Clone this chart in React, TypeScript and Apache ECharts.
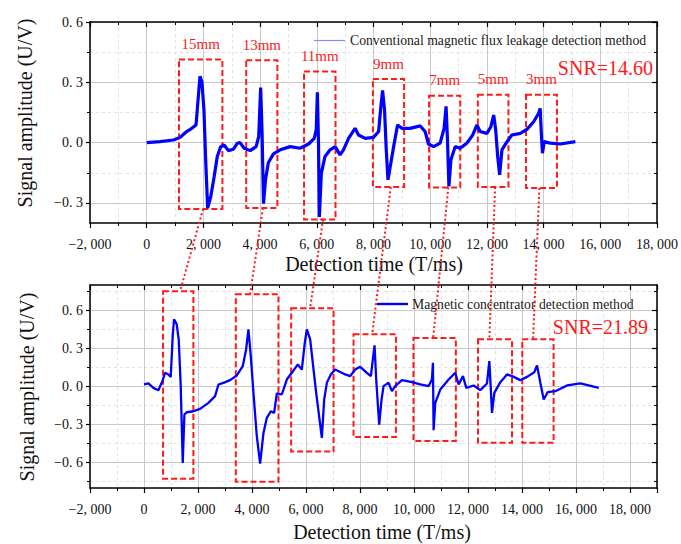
import React, { useEffect, useRef } from "react";
import * as echarts from "echarts";

// ---------- data ----------
const topX = [0, 470, 940, 1180, 1410, 1590, 1740, 1810, 1880, 1950, 2020, 2080, 2150, 2260, 2380, 2490, 2610, 2730, 2880, 3060, 3200, 3290, 3440, 3650, 3860, 3950, 4020, 4070, 4120, 4190, 4290, 4470, 4710, 5060, 5410, 5710, 5910, 5980, 6020, 6060, 6090, 6160, 6290, 6470, 6650, 6820, 6940, 7120, 7350, 7470, 7710, 8000, 8180, 8260, 8320, 8390, 8450, 8510, 8590, 8710, 8850, 9000, 9290, 9650, 9820, 9940, 10120, 10350, 10490, 10560, 10610, 10660, 10730, 10880, 11060, 11290, 11500, 11650, 11760, 12000, 12140, 12240, 12310, 12380, 12450, 12530, 12710, 12880, 13180, 13410, 13650, 13820, 13880, 13920, 13960, 14020, 14240, 14590, 15120];
const topY = [0, 0.005, 0.013, 0.026, 0.055, 0.071, 0.088, 0.21, 0.33, 0.3, 0.16, -0.086, -0.326, -0.268, -0.169, -0.069, -0.02, -0.012, -0.04, -0.033, -0.003, 0, -0.028, -0.04, -0.02, 0.03, 0.274, 0.046, -0.304, -0.185, -0.1, -0.056, -0.036, -0.02, -0.028, -0.007, 0.021, 0.063, 0.25, -0.003, -0.37, -0.152, -0.069, -0.036, -0.02, -0.061, -0.036, 0.021, 0.071, 0.038, 0.021, 0.026, 0.055, 0.18, 0.26, 0.16, -0.036, -0.185, -0.12, -0.02, 0.088, 0.071, 0.071, 0.083, 0.055, -0.007, -0.02, -0.003, 0.071, 0.18, 0.013, -0.218, -0.086, -0.02, -0.028, -0.003, 0.038, 0.088, 0.055, 0.046, 0.079, 0.137, 0.063, -0.069, -0.16, -0.036, 0.005, 0.038, 0.046, 0.066, 0.104, 0.145, 0.17, 0.046, -0.053, 0.005, -0.003, -0.007, 0.005];

const botX = [0, 162, 347, 533, 681, 780, 903, 990, 1064, 1113, 1212, 1286, 1360, 1435, 1496, 1583, 1830, 2077, 2386, 2633, 2757, 2942, 3189, 3436, 3659, 3782, 3869, 3955, 4054, 4178, 4301, 4425, 4548, 4697, 4820, 4919, 5104, 5289, 5475, 5697, 5845, 5956, 6031, 6154, 6377, 6587, 6673, 6772, 6920, 7081, 7451, 7636, 7822, 8007, 8254, 8402, 8539, 8600, 8711, 8798, 8872, 9058, 9181, 9305, 9552, 9923, 10232, 10541, 10664, 10701, 10726, 10788, 10973, 11282, 11529, 11653, 11813, 11937, 12209, 12456, 12703, 12790, 12839, 12889, 12975, 13198, 13444, 13630, 13939, 14186, 14457, 14556, 14680, 14803, 14951, 15235, 15668, 16162, 16841];
const botY = [0.016, 0.024, -0.011, -0.029, 0.042, 0.108, 0.095, 0.076, 0.4, 0.53, 0.49, 0.37, 0.003, -0.603, -0.221, -0.203, -0.195, -0.176, -0.129, -0.076, 0.016, 0.029, 0.05, 0.087, 0.161, 0.292, 0.45, 0.24, -0.05, -0.392, -0.608, -0.366, -0.247, -0.195, -0.208, -0.055, -0.063, 0.055, 0.108, 0.174, 0.134, 0.345, 0.45, 0.371, -0.05, -0.405, -0.103, 0.029, 0.095, 0.134, 0.095, 0.082, 0.134, 0.155, 0.108, 0.082, 0.324, 0.055, -0.3, -0.103, 0.003, 0.029, -0.037, 0.003, 0.05, 0.034, 0.016, 0.003, 0.055, 0.187, -0.345, -0.129, -0.024, 0.055, 0.108, 0.016, 0.082, -0.011, 0.008, -0.029, 0.024, 0.2, 0.003, -0.208, -0.05, 0.034, 0.095, 0.082, 0.05, 0.076, 0.113, 0.166, 0.029, -0.103, -0.045, -0.037, 0.008, 0.024, -0.011];

const defectNames = ["15mm", "13mm", "11mm", "9mm", "7mm", "5mm", "3mm"];
const topBoxX0 = [1140, 3510, 5550, 7980, 9960, 11680, 13380];
const topBoxX1 = [2670, 4610, 6660, 9080, 11060, 12760, 14470];
const topBoxY0 = [-0.33, -0.325, -0.383, -0.221, -0.223, -0.221, -0.226];
const topBoxY1 = [0.414, 0.41, 0.354, 0.316, 0.233, 0.238, 0.238];
const botBoxX0 = [706, 3400, 5450, 7760, 9980, 12370, 14010];
const botBoxX1 = [1829, 4980, 7020, 9330, 11550, 13630, 15170];
const botBoxY0 = [-0.727, -0.75, -0.513, -0.399, -0.43, -0.444, -0.444];
const botBoxY1 = [0.75, 0.727, 0.616, 0.412, 0.383, 0.372, 0.372];
const linkTopX = [1990, 4100, 6220, 8610, 10640, 12290, 13850];
const linkBotX = [1336, 3930, 6150, 8450, 10710, 12790, 14410];

const topYMajor = [-0.3, 0, 0.3, 0.6];
const topYMinor = [-0.15, 0.15, 0.45];
const botYMajor = [-0.6, -0.3, 0, 0.3, 0.6];
const botYMinor = [-0.75, -0.45, -0.15, 0.15, 0.45, 0.75];

const topLegend = "Conventional magnetic flux leakage detection method";
const botLegend = "Magnetic concentrator detection method";
const topSNR = "SNR=14.60";
const botSNR = "SNR=21.89";
const yTitle = "Signal amplitude (U/V)";
const xTitle = "Detection time (T/ms)";

// ---------- styles ----------
const FONT = "'Times New Roman', 'Liberation Serif', serif";
const RED = "#ff1a1a";
const BLUE = "#0000ff";
const MAJOR_GRID = "#c9c9c9";
const MINOR_GRID = "#e2e2e2";

const fmtX = (v: number) => {
  const a = Math.abs(v);
  const s = a >= 1000 ? `${Math.floor(a / 1000)}, ${String(a % 1000).padStart(3, "0")}` : String(a);
  return v < 0 ? "\u2212" + s : s;
};
const fmtY = (v: number) => {
  const s = Math.abs(v).toFixed(1).replace(".", ". ");
  return v < -1e-9 ? "\u2212" + s : s;
};

function xAxes(grid: number, max: number) {
  return [
    {
      type: "value", gridIndex: grid, position: "bottom", min: -2000, max, interval: 2000,
      axisLine: { show: true, onZero: false, lineStyle: { color: "#000", width: 1.5 } },
      axisTick: { show: true, length: 5, lineStyle: { color: "#000", width: 1.2 } },
      minorTick: { show: true, splitNumber: 2, length: 3, lineStyle: { color: "#000", width: 1 } },
      axisLabel: { formatter: fmtX, fontSize: 14, margin: 14, color: "#111", fontFamily: FONT },
      splitLine: { show: true, lineStyle: { color: MAJOR_GRID, width: 1 } },
      minorSplitLine: { show: true, lineStyle: { color: MINOR_GRID, type: [3, 3], width: 1 } },
    },
    {
      type: "value", gridIndex: grid, position: "top", min: -2000, max, interval: 2000,
      axisLine: { show: true, onZero: false, lineStyle: { color: "#000", width: 1.5 } },
      axisTick: { show: true, inside: true, length: 5, lineStyle: { color: "#000", width: 1.2 } },
      minorTick: { show: true, splitNumber: 2, length: 3, lineStyle: { color: "#000", width: 1 } },
      axisLabel: { show: false },
      splitLine: { show: false },
    },
  ];
}

function yAxes(grid: number, min: number, max: number, major: number[], minor: number[]) {
  return [
    {
      type: "value", gridIndex: grid, position: "left", min, max,
      axisLine: { show: true, onZero: false, lineStyle: { color: "#000", width: 1.5 } },
      axisTick: { show: true, customValues: major, length: 4, lineStyle: { color: "#000", width: 1.2 } },
      axisLabel: { customValues: major, formatter: fmtY, fontSize: 14, margin: 7, color: "#111", fontFamily: FONT },
      splitLine: { show: true, lineStyle: { color: MAJOR_GRID, width: 1 } },
    },
    {
      type: "value", gridIndex: grid, position: "right", min, max,
      axisLine: { show: true, onZero: false, lineStyle: { color: "#000", width: 1.5 } },
      axisTick: { show: true, inside: true, customValues: major, length: 5, lineStyle: { color: "#000", width: 1.2 } },
      axisLabel: { show: false },
      splitLine: { show: false },
    },
    {
      type: "value", gridIndex: grid, position: "left", min, max,
      axisLine: { show: false, onZero: false },
      axisTick: { show: true, customValues: minor, length: 3, lineStyle: { color: "#000", width: 1 } },
      axisLabel: { show: false },
      splitLine: { show: true, lineStyle: { color: MINOR_GRID, type: [3, 3], width: 1 } },
    },
    {
      type: "value", gridIndex: grid, position: "right", min, max,
      axisLine: { show: false, onZero: false },
      axisTick: { show: true, inside: true, customValues: minor, length: 3, lineStyle: { color: "#000", width: 1 } },
      axisLabel: { show: false },
      splitLine: { show: false },
    },
  ];
}

function boxes(x0: number[], x1: number[], y0: number[], y1: number[], names: string[] | null) {
  return x0.map((_, i) => [
    { name: names ? names[i] : "", coord: [x0[i], y1[i]] },
    { coord: [x1[i], y0[i]] },
  ]);
}

export default function App() {
  const ref = useRef<HTMLDivElement>(null);
  useEffect(() => {
    if (!ref.current) return;
    const chart = echarts.init(ref.current, null, { renderer: "svg" });
    const option: any = {
      animation: false,
      backgroundColor: "#fff",
      grid: [
        { left: 90, right: 24, top: 22, height: 201 },
        { left: 90, right: 24, top: 285, height: 203 },
      ],
      xAxis: [...xAxes(0, 18000), ...xAxes(1, 19000)],
      yAxis: [...yAxes(0, -0.4, 0.6, topYMajor, topYMinor), ...yAxes(1, -0.8, 0.8, botYMajor, botYMinor)],
      series: [
        {
          type: "line", xAxisIndex: 0, yAxisIndex: 0, showSymbol: false, symbol: "none",
          data: topX.map((x, i) => [x, topY[i]]),
          lineStyle: { color: BLUE, width: 3.2 },
          markArea: {
            silent: true,
            itemStyle: { color: "rgba(0,0,0,0)", borderColor: RED, borderWidth: 2, borderType: [6, 3] },
            label: { show: true, position: "top", distance: 7, color: RED, fontSize: 15, fontFamily: FONT },
            data: boxes(topBoxX0, topBoxX1, topBoxY0, topBoxY1, defectNames),
          },
          z: 3,
        },
        {
          type: "line", xAxisIndex: 2, yAxisIndex: 4, showSymbol: false, symbol: "none",
          data: botX.map((x, i) => [x, botY[i]]),
          lineStyle: { color: BLUE, width: 2.3 },
          markArea: {
            silent: true,
            itemStyle: { color: "rgba(0,0,0,0)", borderColor: RED, borderWidth: 2, borderType: [6, 3] },
            label: { show: false },
            data: boxes(botBoxX0, botBoxX1, botBoxY0, botBoxY1, null),
          },
          z: 3,
        },
      ],
    };
    chart.setOption(option);

    const links = linkTopX.map((tx, i) => {
      const p1 = chart.convertToPixel({ xAxisIndex: 0, yAxisIndex: 0 }, [tx, topBoxY0[i]]) as number[];
      const p2 = chart.convertToPixel({ xAxisIndex: 2, yAxisIndex: 4 }, [linkBotX[i], botBoxY1[i]]) as number[];
      return {
        type: "line", z: 100, silent: true,
        shape: { x1: p1[0], y1: p1[1], x2: p2[0], y2: p2[1] },
        style: { stroke: RED, lineWidth: 2, lineDash: [2, 2.5] },
      };
    });

    const texts = [
      { type: "text", x: 25, y: 113, rotation: Math.PI / 2, style: { text: yTitle, fontSize: 20, fontFamily: FONT, fill: "#111", align: "center", verticalAlign: "middle" } },
      { type: "text", x: 27, y: 387, rotation: Math.PI / 2, style: { text: yTitle, fontSize: 20, fontFamily: FONT, fill: "#111", align: "center", verticalAlign: "middle" } },
      { type: "text", x: 374, y: 264, style: { text: xTitle, fontSize: 20, fontFamily: FONT, fill: "#111", align: "center", verticalAlign: "middle" } },
      { type: "text", x: 382, y: 532, style: { text: xTitle, fontSize: 20, fontFamily: FONT, fill: "#111", align: "center", verticalAlign: "middle" } },
      { type: "line", shape: { x1: 314, y1: 40.5, x2: 345, y2: 40.5 }, style: { stroke: "#8a8aff", lineWidth: 1.2 } },
      { type: "text", x: 350, y: 40.5, style: { text: topLegend, fontSize: 13.7, fontFamily: FONT, fill: "#1a1a1a", align: "left", verticalAlign: "middle" } },
      { type: "line", shape: { x1: 377, y1: 304, x2: 408, y2: 304 }, style: { stroke: BLUE, lineWidth: 2.4 } },
      { type: "text", x: 412, y: 304, style: { text: botLegend, fontSize: 13.7, fontFamily: FONT, fill: "#1a1a1a", align: "left", verticalAlign: "middle" } },
      { type: "text", x: 653, y: 68, style: { text: topSNR, fontSize: 20, fontFamily: FONT, fill: RED, align: "right", verticalAlign: "middle" } },
      { type: "text", x: 648, y: 327, style: { text: botSNR, fontSize: 20, fontFamily: FONT, fill: RED, align: "right", verticalAlign: "middle" } },
    ];

    chart.setOption({ graphic: { elements: [...texts, ...links] } });
    return () => chart.dispose();
  }, []);
  return <div ref={ref} style={{ position: "fixed", left: 0, top: 0, width: 681, height: 544 }} />;
}
